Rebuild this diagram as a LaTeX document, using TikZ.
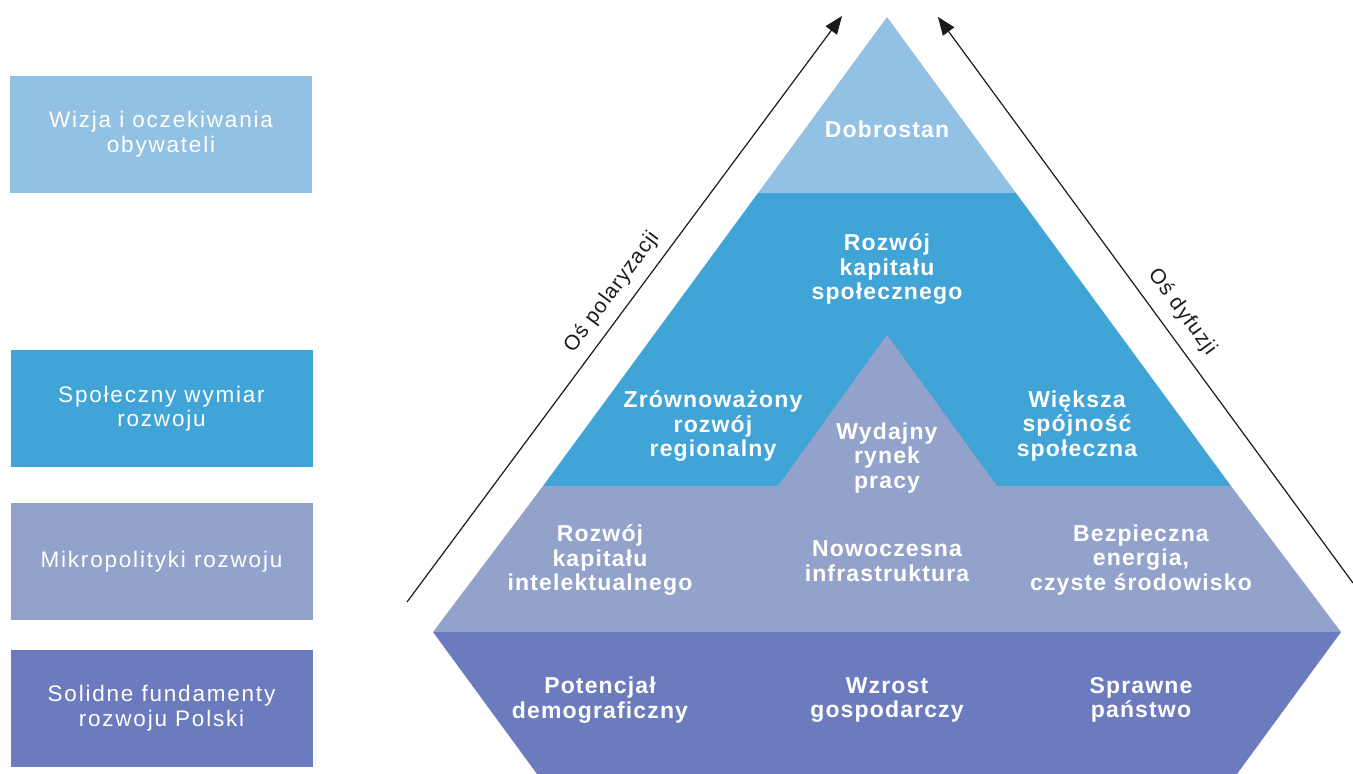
\documentclass[tikz,border=0pt]{standalone}
\usepackage{fontspec}
\setmainfont{Liberation Sans}
\newfontfamily\lightf[LetterSpace=8]{Liberation Sans}
\newfontfamily\pyrf[LetterSpace=5]{Liberation Sans}
\newfontfamily\axf[LetterSpace=5]{Liberation Sans}
\usetikzlibrary{arrows.meta}
\definecolor{cA}{HTML}{93C1E3}
\definecolor{cB}{HTML}{40A4D7}
\definecolor{cC}{HTML}{93A2CB}
\definecolor{cD}{HTML}{6B7BBD}
\definecolor{axc}{HTML}{1A1A1A}
\begin{document}
\begin{tikzpicture}[x=1pt,y=-1pt,
  lbox/.style={fill=#1, minimum width=302pt, minimum height=117pt, inner sep=0pt,
    text=white, align=center, font=\lightf\fontsize{22.5}{24.5}\selectfont},
  ptext/.style={text=white, align=center, inner sep=0pt,
    font=\pyrf\bfseries\fontsize{23}{24.5}\selectfont},
  axis/.style={draw=axc, line width=1.2pt, -{Triangle[length=18pt,width=14pt]}},
  axlabel/.style={text=axc, inner sep=0pt, font=\axf\fontsize{21}{24}\selectfont}]
\useasboundingbox (0,0) rectangle (1353,774);

% left boxes
\node[lbox=cA] (b1) at (161,134) {Wizja i oczekiwania\\obywateli};
\node[lbox=cB] (b2) at (161.5,408.5) {Społeczny wymiar\\rozwoju};
\node[lbox=cC] (b3) at (161.5,561.5) {Mikropolityki rozwoju};
\node[lbox=cD] (b4) at (161.5,708) {Solidne fundamenty\\rozwoju Polski};

% pyramid layers
\fill[cA] (887,17) -- (1016,193) -- (758,193) -- cycle;
\fill[cB] (758,193) -- (1016,193) -- (1231,486) -- (543,486) -- cycle;
\fill[cC] (543,486) -- (778,486) -- (887,335) -- (997,486) -- (1231,486)
          -- (1341,632) -- (433,632) -- cycle;
\fill[cD] (433,632) -- (1341,632) -- (1237,774) -- (537,774) -- cycle;

% pyramid texts
\node[ptext] (t1) at (887,129) {Dobrostan};
\node[ptext] (t2) at (887,269) {Rozwój\\kapitału\\społecznego};
\node[ptext] (t3) at (713,426) {Zrównoważony\\rozwój\\regionalny};
\node[ptext] (t4) at (887,458) {Wydajny\\rynek\\pracy};
\node[ptext] (t5) at (1077,426) {Większa\\spójność\\społeczna};
\node[ptext] (t6) at (600,560) {Rozwój\\kapitału\\intelektualnego};
\node[ptext] (t7) at (887,561) {Nowoczesna\\infrastruktura};
\node[ptext] (t8) at (1141,560) {Bezpieczna\\energia,\\czyste środowisko};
\node[ptext] (t9) at (600,700) {Potencjał\\demograficzny};
\node[ptext] (t10) at (887,700) {Wzrost\\gospodarczy};
\node[ptext] (t11) at (1141,700) {Sprawne\\państwo};

% axes
\coordinate (pa) at (407,602);
\coordinate (pb) at (842,16);
\coordinate (da) at (1353,583);
\coordinate (db) at (938,17);
\draw[axis] (pa) -- (pb);
\draw[axis] (da) -- (db);
\node[axlabel, rotate=53.4] (lp) at (612,292) {Oś polaryzacji};
\node[axlabel, rotate=-53.7] (ld) at (1182,312) {Oś dyfuzji};
\end{tikzpicture}
\end{document}
